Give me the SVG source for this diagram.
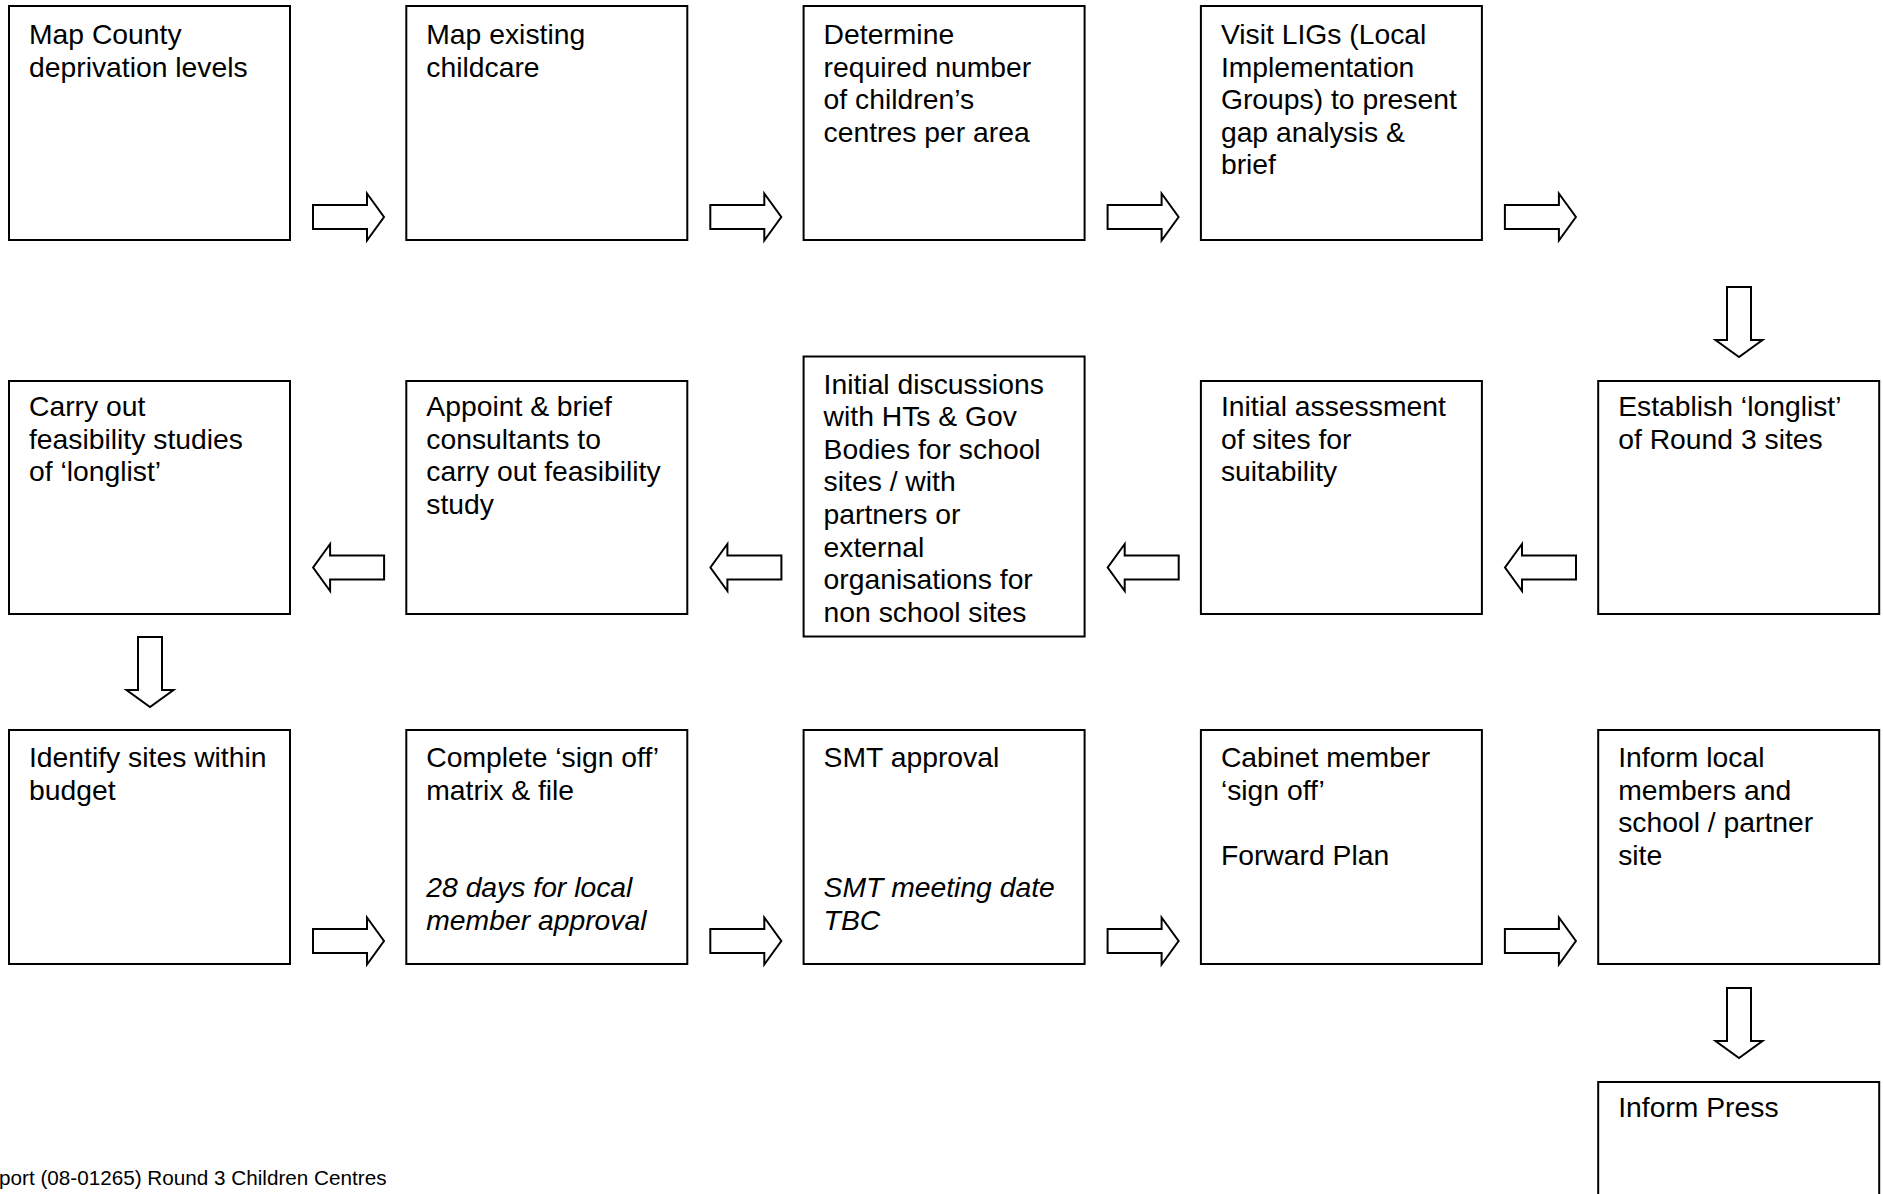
<svg xmlns="http://www.w3.org/2000/svg" width="1883" height="1194" viewBox="0 0 1883 1194">
<style>
.box{fill:#fff;stroke:#000;stroke-width:2}
.arr{fill:#fff;stroke:#000;stroke-width:2;stroke-linejoin:miter}
text{font-family:"Liberation Sans",Arial,sans-serif;font-size:28.3px;fill:#000}
.it{font-style:italic}
.foot{font-size:20.7px}
</style>
<rect width="1883" height="1194" fill="#fff"/>
<g id="connectors">
<path class="arr" d="M313,205H367V193.5L384,217L367,240.5V229H313Z"/>
<path class="arr" d="M710.3,205H764.3V193.5L781.3,217L764.3,240.5V229H710.3Z"/>
<path class="arr" d="M1107.6,205H1161.6V193.5L1178.6,217L1161.6,240.5V229H1107.6Z"/>
<path class="arr" d="M1504.9,205H1558.9V193.5L1575.9,217L1558.9,240.5V229H1504.9Z"/>
<path class="arr" d="M1727,287V340H1715.5L1739,357L1762.5,340H1751V287Z"/>
<path class="arr" d="M1576,555.5H1522V544L1505,567.5L1522,591V579.5H1576Z"/>
<path class="arr" d="M1178.7,555.5H1124.7V544L1107.7,567.5L1124.7,591V579.5H1178.7Z"/>
<path class="arr" d="M781.4,555.5H727.4V544L710.4,567.5L727.4,591V579.5H781.4Z"/>
<path class="arr" d="M384.1,555.5H330.1V544L313.1,567.5L330.1,591V579.5H384.1Z"/>
<path class="arr" d="M138,637V690H126.5L150,707L173.5,690H162V637Z"/>
<path class="arr" d="M313,929H367V917.5L384,941L367,964.5V953H313Z"/>
<path class="arr" d="M710.3,929H764.3V917.5L781.3,941L764.3,964.5V953H710.3Z"/>
<path class="arr" d="M1107.6,929H1161.6V917.5L1178.6,941L1161.6,964.5V953H1107.6Z"/>
<path class="arr" d="M1504.9,929H1558.9V917.5L1575.9,941L1558.9,964.5V953H1504.9Z"/>
<path class="arr" d="M1727,988V1041H1715.5L1739,1058L1762.5,1041H1751V988Z"/>
</g>
<g id="n1"><rect class="box" x="9" y="6" width="281" height="234"/>
<text x="29" y="44"><tspan x="29">Map County</tspan><tspan x="29" dy="32.6">deprivation levels</tspan></text></g>
<g id="n2"><rect class="box" x="406.3" y="6" width="281" height="234"/>
<text x="426.3" y="44"><tspan x="426.3">Map existing</tspan><tspan x="426.3" dy="32.6">childcare</tspan></text></g>
<g id="n3"><rect class="box" x="803.6" y="6" width="281" height="234"/>
<text x="823.6" y="44"><tspan x="823.6">Determine</tspan><tspan x="823.6" dy="32.6">required number</tspan><tspan x="823.6" dy="32.6">of children’s</tspan><tspan x="823.6" dy="32.6">centres per area</tspan></text></g>
<g id="n4"><rect class="box" x="1200.9" y="6" width="281" height="234"/>
<text x="1220.9" y="44"><tspan x="1220.9">Visit LIGs (Local</tspan><tspan x="1220.9" dy="32.6">Implementation</tspan><tspan x="1220.9" dy="32.6">Groups) to present</tspan><tspan x="1220.9" dy="32.6">gap analysis &amp;</tspan><tspan x="1220.9" dy="32.6">brief</tspan></text></g>
<g id="n5"><rect class="box" x="1598.2" y="381" width="281" height="233"/>
<text x="1618.2" y="416"><tspan x="1618.2">Establish ‘longlist’</tspan><tspan x="1618.2" dy="32.6">of Round 3 sites</tspan></text></g>
<g id="n6"><rect class="box" x="1200.9" y="381" width="281" height="233"/>
<text x="1220.9" y="416"><tspan x="1220.9">Initial assessment</tspan><tspan x="1220.9" dy="32.6">of sites for</tspan><tspan x="1220.9" dy="32.6">suitability</tspan></text></g>
<g id="n7"><rect class="box" x="803.6" y="356.5" width="281" height="280"/>
<text x="823.6" y="393.5"><tspan x="823.6">Initial discussions</tspan><tspan x="823.6" dy="32.6">with HTs &amp; Gov</tspan><tspan x="823.6" dy="32.6">Bodies for school</tspan><tspan x="823.6" dy="32.6">sites / with</tspan><tspan x="823.6" dy="32.6">partners or</tspan><tspan x="823.6" dy="32.6">external</tspan><tspan x="823.6" dy="32.6">organisations for</tspan><tspan x="823.6" dy="32.6">non school sites</tspan></text></g>
<g id="n8"><rect class="box" x="406.3" y="381" width="281" height="233"/>
<text x="426.3" y="416"><tspan x="426.3">Appoint &amp; brief</tspan><tspan x="426.3" dy="32.6">consultants to</tspan><tspan x="426.3" dy="32.6">carry out feasibility</tspan><tspan x="426.3" dy="32.6">study</tspan></text></g>
<g id="n9"><rect class="box" x="9" y="381" width="281" height="233"/>
<text x="29" y="416"><tspan x="29">Carry out</tspan><tspan x="29" dy="32.6">feasibility studies</tspan><tspan x="29" dy="32.6">of ‘longlist’</tspan></text></g>
<g id="n10"><rect class="box" x="9" y="730" width="281" height="234"/>
<text x="29" y="767"><tspan x="29">Identify sites within</tspan><tspan x="29" dy="32.6">budget</tspan></text></g>
<g id="n11"><rect class="box" x="406.3" y="730" width="281" height="234"/>
<text x="426.3" y="767"><tspan x="426.3">Complete ‘sign off’</tspan><tspan x="426.3" dy="32.6">matrix &amp; file</tspan></text>
<text class="it" x="426.3" y="897.4"><tspan x="426.3">28 days for local</tspan><tspan x="426.3" dy="32.6">member approval</tspan></text></g>
<g id="n12"><rect class="box" x="803.6" y="730" width="281" height="234"/>
<text x="823.6" y="767">SMT approval</text>
<text class="it" x="823.6" y="897.4"><tspan x="823.6">SMT meeting date</tspan><tspan x="823.6" dy="32.6">TBC</tspan></text></g>
<g id="n13"><rect class="box" x="1200.9" y="730" width="281" height="234"/>
<text x="1220.9" y="767"><tspan x="1220.9">Cabinet member</tspan><tspan x="1220.9" dy="32.6">‘sign off’</tspan><tspan x="1220.9" dy="65.2">Forward Plan</tspan></text></g>
<g id="n14"><rect class="box" x="1598.2" y="730" width="281" height="234"/>
<text x="1618.2" y="767"><tspan x="1618.2">Inform local</tspan><tspan x="1618.2" dy="32.6">members and</tspan><tspan x="1618.2" dy="32.6">school / partner</tspan><tspan x="1618.2" dy="32.6">site</tspan></text></g>
<g id="n15"><rect class="box" x="1598.2" y="1082" width="281" height="160"/>
<text x="1618.2" y="1117">Inform Press</text></g>
<text class="foot" x="-1" y="1185">port (08-01265) Round 3 Children Centres</text>
</svg>
